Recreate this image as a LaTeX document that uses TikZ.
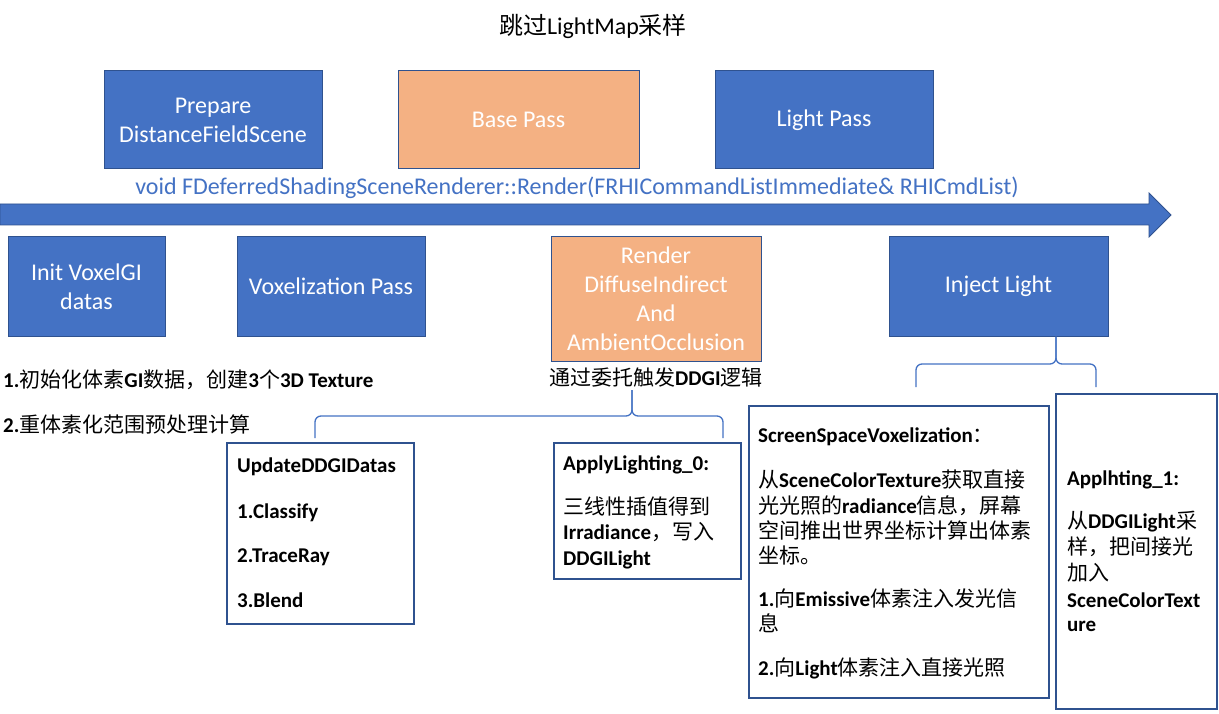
\documentclass[tikz,border=0pt]{standalone}
\usepackage{fontspec}
\setmainfont{Carlito}
\newfontfamily\cjk{Noto Sans CJK SC}
\definecolor{fillblue}{HTML}{4472C4}
\definecolor{edgeblue}{HTML}{2F528F}
\definecolor{peach}{HTML}{F4B183}
\newcommand\zh[1]{{\cjk\mdseries #1}}
\begin{document}
\begin{tikzpicture}[x=1pt,y=-1pt,
  box/.style={rectangle, draw=edgeblue, line width=1pt, inner sep=0pt, text=white, align=center, font=\fontsize{24}{29}\selectfont},
  bluebox/.style={box, fill=fillblue},
  peachbox/.style={box, fill=peach},
  panel/.style={rectangle, draw=edgeblue, line width=1.2pt, fill=white, inner sep=0pt},
  txtline/.style={anchor=base west, inner sep=0pt, font=\fontsize{21}{25}\selectfont\bfseries},
  bracket/.style={draw=fillblue, line width=1.3pt, rounded corners=6pt},
]
\useasboundingbox (0,0) rectangle (1219,714);
\fill[white] (0,0) rectangle (1219,714);

% title
\node[font=\fontsize{24}{29}\selectfont, anchor=base, inner sep=0pt] (title) at (593,35) {\zh{跳过}LightMap\zh{采样}};

% top row
\node[bluebox, minimum width=218pt, minimum height=98pt] (prep) at (213,120) {Prepare\\DistanceFieldScene};
\node[peachbox, minimum width=241pt, minimum height=98pt] (base) at (518.5,120) {Base Pass};
\node[bluebox, minimum width=218pt, minimum height=98pt] (light) at (824,120) {Light Pass};

% signature
\node[text=fillblue, font=\fontsize{24}{29}\selectfont, anchor=base, inner sep=0pt] (sig) at (577,195) {void FDeferredShadingSceneRenderer::Render(FRHICommandListImmediate\& RHICmdList)};

% timeline arrow
\coordinate (tl1) at (1171,215);
\filldraw[fill=fillblue, draw=edgeblue, line width=0.8pt]
  (0,204) -- (1149,204) -- (1149,193) -- (tl1) -- (1149,237) -- (1149,225) -- (0,225) -- cycle;

% bottom row
\node[bluebox, minimum width=157pt, minimum height=99pt] (init) at (86.5,286.5) {Init VoxelGI\\datas};
\node[bluebox, minimum width=188pt, minimum height=99pt] (voxel) at (331,286.5) {Voxelization Pass};
\node[peachbox, minimum width=210pt, minimum height=124pt] (diffuse) at (656,299) {Render\\DiffuseIndirect\\And\\AmbientOcclusion};
\node[bluebox, minimum width=219pt, minimum height=99pt] (inject) at (998.5,286.5) {Inject Light};

% notes
\node[txtline] (note1) at (3,387) {1.\zh{初始化体素}GI\zh{数据，创建}3\zh{个}3D Texture};
\node[txtline] (note2) at (3,432) {2.\zh{重体素化范围预处理计算}};
\node[txtline] (deleg) at (549,385) {\zh{通过委托触发}DDGI\zh{逻辑}};

% braces
\coordinate (b1mid) at (632,416);
\coordinate (b1tip) at (632,390);
\coordinate (b1l) at (315,438);
\coordinate (b1r) at (723,438);
\draw[bracket] (b1l) |- (b1mid) -- (b1tip);
\draw[bracket] (b1r) |- (b1mid) -- (b1tip);

\coordinate (b2mid) at (1056,364);
\coordinate (b2l) at (916,387);
\coordinate (b2r) at (1096,387);
\draw[bracket] (b2l) |- (b2mid) -- (b2mid |- inject.south);
\draw[bracket] (b2r) |- (b2mid) -- (b2mid |- inject.south);

% panels
\node[panel, minimum width=187pt, minimum height=181pt] (upd) at (320.5,533.5) {};
\node[txtline] (u1) at (237,472) {UpdateDDGIDatas};
\node[txtline] (u2) at (237,518) {1.Classify};
\node[txtline] (u3) at (237,562) {2.TraceRay};
\node[txtline] (u4) at (237,607) {3.Blend};

\node[panel, minimum width=187pt, minimum height=136pt] (apply0) at (647.5,511) {};
\node[txtline] (a1) at (563,470) {ApplyLighting\_0:};
\node[txtline] (a2) at (563,514) {\zh{三线性插值得到}};
\node[txtline] (a3) at (563,539) {Irradiance\zh{，写入}};
\node[txtline] (a4) at (563,565) {DDGILight};

\node[panel, minimum width=300pt, minimum height=292pt] (ssv) at (899,552) {};
\node[txtline] (s1) at (758,442) {ScreenSpaceVoxelization\zh{：}};
\node[txtline] (s2) at (758,487) {\zh{从}SceneColorTexture\zh{获取直接}};
\node[txtline] (s3) at (758,513) {\zh{光光照的}radiance\zh{信息，屏幕}};
\node[txtline] (s4) at (758,538) {\zh{空间推出世界坐标计算出体素}};
\node[txtline] (s5) at (758,563) {\zh{坐标。}};
\node[txtline] (s6) at (758,606) {1.\zh{向}Emissive\zh{体素注入发光信}};
\node[txtline] (s7) at (758,631) {\zh{息}};
\node[txtline] (s8) at (758,675) {2.\zh{向}Light\zh{体素注入直接光照}};

\node[panel, minimum width=161pt, minimum height=315pt] (apply1) at (1136.5,551.5) {};
\node[txtline] (p1) at (1067,485) {Applhting\_1:};
\node[txtline] (p2) at (1067,528) {\zh{从}DDGILight\zh{采}};
\node[txtline] (p3) at (1067,554) {\zh{样，把间接光}};
\node[txtline] (p4) at (1067,580) {\zh{加入}};
\node[txtline] (p5) at (1067,607) {SceneColorText};
\node[txtline] (p6) at (1067,631) {ure};
\end{tikzpicture}
\end{document}
